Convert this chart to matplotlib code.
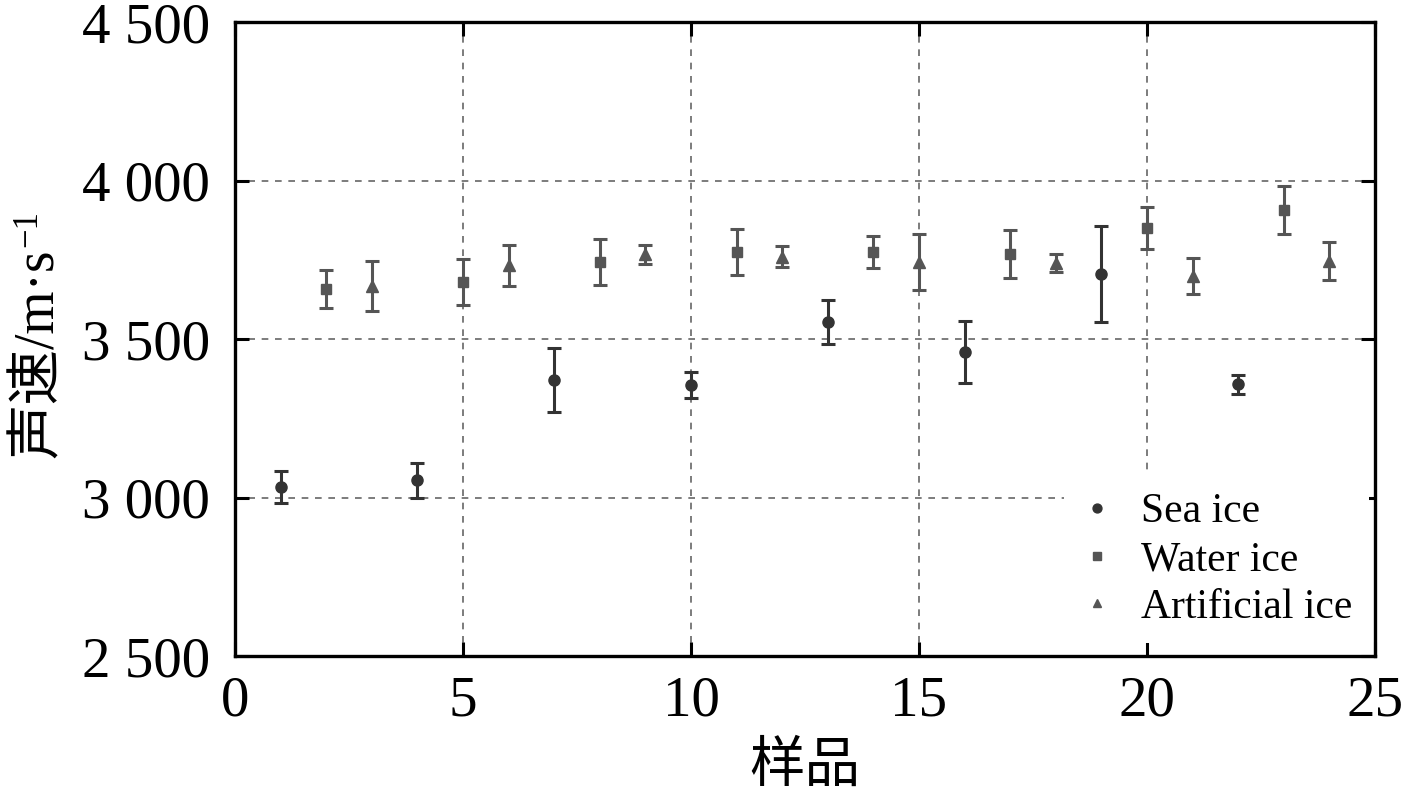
import matplotlib
matplotlib.use("Agg")
import matplotlib.pyplot as plt

plt.rcParams['font.family'] = ['Liberation Serif', 'Noto Sans CJK SC', 'DejaVu Sans']

sea_x = [1, 4, 7, 10, 13, 16, 19, 22]
sea_y = [3033, 3055, 3371, 3355, 3554, 3459, 3705, 3358]
sea_err = [50, 55, 100, 40, 70, 98, 150, 30]

water_x = [2, 5, 8, 11, 14, 17, 20, 23]
water_y = [3658, 3680, 3743, 3774, 3774, 3768, 3850, 3907]
water_err = [60, 72, 72, 72, 50, 77, 67, 75]

art_x = [3, 6, 9, 12, 15, 18, 21, 24]
art_y = [3667, 3733, 3768, 3759, 3743, 3740, 3699, 3746]
art_err = [80, 65, 30, 33, 87, 27, 57, 60]

xticks = [0, 5, 10, 15, 20, 25]
yticks = [2500, 3000, 3500, 4000, 4500]
ytick_labels = ['2 500', '3 000', '3 500', '4 000', '4 500']

fig = plt.figure(figsize=(14.17, 7.98), dpi=100)
ax = fig.add_axes([0.1658, 0.1779, 0.8046, 0.7945])

common = dict(linestyle='none', elinewidth=2.2, capsize=5, capthick=2.2)
ax.errorbar(sea_x, sea_y, yerr=sea_err, fmt='o', color='#333333', ms=8,
            label='Sea ice', zorder=3, **common)
ax.errorbar(water_x, water_y, yerr=water_err, fmt='s', color='#555555', ms=6.5,
            label='Water ice', zorder=3, **common)
ax.errorbar(art_x, art_y, yerr=art_err, fmt='^', color='#555555', ms=8,
            label='Artificial ice', zorder=3, **common)

ax.set_xlim(0, 25)
ax.set_ylim(2500, 4500)
ax.set_xticks(xticks)
ax.set_yticks(yticks)
ax.set_yticklabels(ytick_labels)
ax.tick_params(direction='in', length=10, width=2.2, labelsize=41,
               top=True, right=True)
ax.tick_params(axis='x', pad=14)
ax.tick_params(axis='y', pad=18)
for s in ax.spines.values():
    s.set_linewidth(2.4)
ax.grid(True, linestyle=(0, (4, 4)), color='#666666', linewidth=1.2, zorder=0)

ax.set_xlabel('样品', fontsize=40, labelpad=10)
ylab = ax.set_ylabel('声速/m·s', fontsize=40, labelpad=12)
ax.yaxis.label.set_y(0.477)

handles, labels = ax.get_legend_handles_labels()
handles = [h[0] for h in handles]
leg = ax.legend(handles, labels, loc='lower right', fontsize=30, frameon=True,
                fancybox=False, edgecolor='none', framealpha=1,
                handlelength=0.8, handletextpad=0.65, labelspacing=0.22,
                borderaxespad=0.15, markerscale=0.8,
                bbox_to_anchor=(1.0, 0.01))

# superscript "-1" placed at the end of the rotated y label
fig.canvas.draw()
bb = ylab.get_window_extent()
inv = fig.transFigure.inverted()
x0, y0 = inv.transform((bb.x0, bb.y1))
fig.text(x0 - 0.001, y0 + 0.002, '−1', fontsize=25, rotation=90,
         ha='left', va='bottom')

fig.savefig('out.png', dpi=100)
